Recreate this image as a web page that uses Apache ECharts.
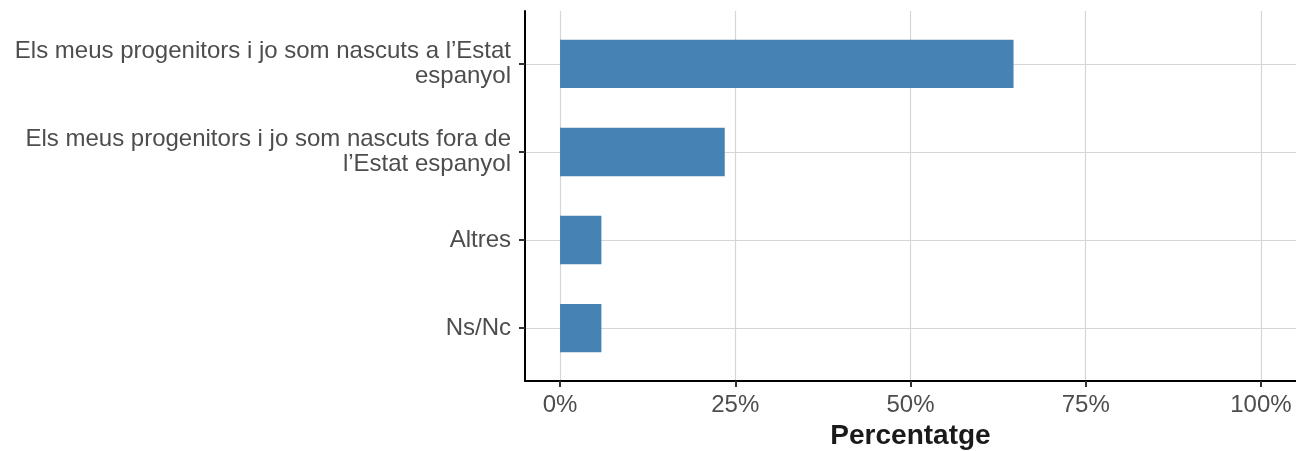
<!DOCTYPE html>
<html>
<head>
<meta charset="utf-8">
<script src="https://cdn.jsdelivr.net/npm/echarts@6/dist/echarts.min.js"></script>
<style>
  html, body { margin: 0; padding: 0; background: #fff; }
  #chart { width: 1296px; height: 451px; }
</style>
</head>
<body>
<div id="chart"></div>
<script>
// Place of birth of respondent and parents (share of answers, %)
const categories = [
  'Els meus progenitors i jo som nascuts a l\u2019Estat\nespanyol',
  'Els meus progenitors i jo som nascuts fora de\nl\u2019Estat espanyol',
  'Altres',
  'Ns/Nc'
];
const values = [64.7, 23.5, 5.9, 5.9];
const xTicks = [0, 25, 50, 75, 100];
const xTitle = 'Percentatge';

const BAR_COLOR = '#4682B4';
const BAR_THICKNESS = 0.55; // in category units
const FONT = '"Liberation Sans", Arial, Helvetica, sans-serif';

const positions = categories.map((_, i) => i + 1);
const seriesData = values.map((v, i) => [v, positions[i]]);

const chart = echarts.init(document.getElementById('chart'), null, { renderer: 'canvas' });

chart.setOption({
  animation: false,
  backgroundColor: '#ffffff',
  grid: { left: 525, right: 0, top: 11, bottom: 70, containLabel: false, outerBoundsMode: 'none' },
  xAxis: {
    type: 'value',
    min: -5,
    max: 105,
    name: xTitle,
    nameLocation: 'middle',
    nameGap: 39,
    nameTextStyle: { fontFamily: FONT, fontSize: 28, fontWeight: 'bold', color: '#1a1a1a' },
    axisLine: { show: true, onZero: false, lineStyle: { color: '#000', width: 2 } },
    axisTick: { show: true, customValues: xTicks, length: 6, lineStyle: { color: '#333', width: 2 } },
    axisLabel: {
      customValues: xTicks,
      formatter: v => v + '%',
      fontFamily: FONT, fontSize: 24, color: '#4d4d4d', margin: 12
    },
    splitLine: { show: true, lineStyle: { color: '#d6d6d6', width: 1.2 } }
  },
  yAxis: {
    type: 'value',
    min: 0.4,
    max: 4.6,
    inverse: true,
    axisLine: { show: true, onZero: false, lineStyle: { color: '#000', width: 2 } },
    axisTick: { show: true, customValues: positions, length: 6, lineStyle: { color: '#333', width: 2 } },
    axisLabel: {
      customValues: positions,
      formatter: v => categories[Math.round(v) - 1] || '',
      fontFamily: FONT, fontSize: 24, lineHeight: 25, color: '#4d4d4d',
      align: 'right', margin: 14
    },
    splitLine: { show: true, lineStyle: { color: '#d6d6d6', width: 1.2 } }
  },
  series: [{
    type: 'custom',
    data: seriesData,
    encode: { x: 0, y: 1 },
    renderItem: function (params, api) {
      const v = api.value(0);
      const pos = api.value(1);
      const start = api.coord([0, pos]);
      const end = api.coord([v, pos]);
      const h = Math.abs(api.size([0, BAR_THICKNESS])[1]);
      return {
        type: 'rect',
        shape: { x: start[0], y: start[1] - h / 2, width: end[0] - start[0], height: h },
        style: { fill: BAR_COLOR }
      };
    }
  }]
});
</script>
</body>
</html>
